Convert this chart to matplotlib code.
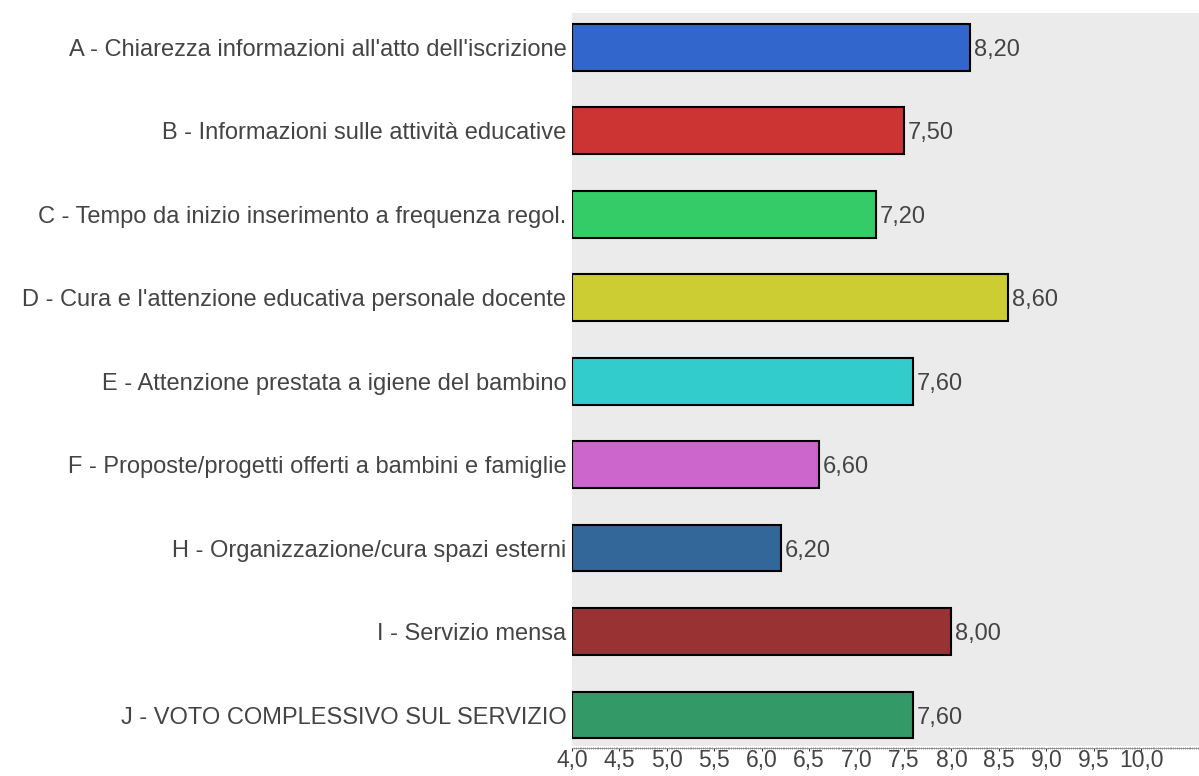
import matplotlib.pyplot as plt
import numpy as np
from matplotlib.ticker import MultipleLocator, FixedLocator, FuncFormatter

plt.rcParams['font.family'] = ['Liberation Sans', 'DejaVu Sans']

labels = ["A - Chiarezza informazioni all'atto dell'iscrizione",
          "B - Informazioni sulle attività educative",
          "C - Tempo da inizio inserimento a frequenza regol.",
          "D - Cura e l'attenzione educativa personale docente",
          "E - Attenzione prestata a igiene del bambino",
          "F - Proposte/progetti offerti a bambini e famiglie",
          "H - Organizzazione/cura spazi esterni",
          "I - Servizio mensa",
          "J - VOTO COMPLESSIVO SUL SERVIZIO"]
values = [8.2, 7.5, 7.2, 8.6, 7.6, 6.6, 6.2, 8.0, 7.6]
colors = ['#3366cc', '#cc3333', '#33cc66', '#cccc33', '#33cccc',
          '#cc66cc', '#336699', '#993333', '#339966']
xticks = [4.0, 4.5, 5.0, 5.5, 6.0, 6.5, 7.0, 7.5, 8.0, 8.5, 9.0, 9.5, 10.0]

fig = plt.figure(figsize=(11.99, 7.76), dpi=100)
ax = fig.add_axes([0.477, 0.0387, 0.523, 0.9446])
ax.set_facecolor('#ebebeb')

y = np.arange(len(labels))
base = 4.0
ax.barh(y, [v - base for v in values], left=base, height=0.56,
        color=colors, edgecolor='black', linewidth=1.5)
for yi, v in zip(y, values):
    ax.text(v + 0.04, yi, ('%.2f' % v).replace('.', ','), va='center_baseline', ha='left',
            fontsize=17, color='#444444')

ax.set_xlim(4.0, 10.61)
ax.set_ylim(8.37, -0.41)
ax.set_yticks(y)
ax.set_yticklabels(labels, fontsize=17, color='#444444')
ax.xaxis.set_major_locator(FixedLocator(xticks))
ax.xaxis.set_minor_locator(MultipleLocator(0.02))
ax.xaxis.set_major_formatter(FuncFormatter(lambda x, p: ('%.1f' % x).replace('.', ',')))
ax.tick_params(axis='x', labelsize=16.5, labelcolor='#444444', length=2.5, width=0.8,
               direction='out', pad=-1.5, color='#333333')
ax.tick_params(axis='x', which='minor', length=1.5, width=0.4, direction='inout', color='#555555')
ax.tick_params(axis='y', length=0, pad=4)
for s in ax.spines.values():
    s.set_visible(False)
ax.spines['bottom'].set_visible(True)
ax.spines['bottom'].set_position(('outward', 1.5))
ax.spines['bottom'].set_color('#888888')
ax.spines['bottom'].set_linewidth(0.6)

plt.savefig('out.png')
